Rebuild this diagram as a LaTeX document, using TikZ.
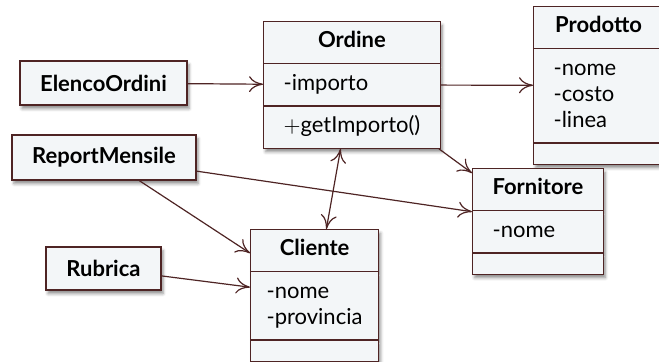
\documentclass[tikz,border=0pt]{standalone}
\usepackage{fontspec}
\setmainfont{Lato}
\usetikzlibrary{shapes.multipart,arrows.meta,shadows.blur}

\definecolor{umlline}{RGB}{78,36,36}
\definecolor{umlfill}{RGB}{243,246,248}

\tikzset{
  umlbox/.style={draw=umlline, fill=umlfill, line width=0.6pt,
    blur shadow={shadow xshift=1pt, shadow yshift=-1.8pt, shadow blur radius=1.5pt, shadow opacity=45}},
  % class with name, attributes and operations
  umlclass/.style={umlbox, rectangle split, rectangle split parts=3,
    rectangle split ignore empty parts=false,
    rectangle split part align={center,left,left},
    inner xsep=10pt, inner ysep=3.75pt, anchor=north west,
    font=\fontsize{11}{13}\selectfont},
  % class shown by its name only
  umlname/.style={umlbox, minimum height=22pt, font=\fontsize{11}{13}\selectfont\bfseries},
  assoc/.style={draw=umlline, line width=0.6pt, -{To[length=7pt,width=8pt]}},
}
\newcommand{\attrlist}[1]{\begin{tabular}{@{}l@{}}#1\end{tabular}}

\begin{document}
\begin{tikzpicture}[x=0.5pt,y=-0.5pt]
    \useasboundingbox (0,0) rectangle (659,361);
    % left column
    \node[umlname, minimum width=83.5pt] (elenco) at (103.5,83) {ElencoOrdini};
    \node[umlname, minimum width=92pt, minimum height=22.5pt] (report) at (104,157.5) {ReportMensile};
    \node[umlname, minimum width=57.5pt, minimum height=21.5pt] (rubrica) at (103.5,268.5) {Rubrica};
    % classes
    \node[umlclass, minimum width=87.5pt] (ordine) at (263,21)
        {\bfseries\strut Ordine
         \nodepart{two}\strut-importo
         \nodepart{three}\strut$+$getImporto()};
    \node[umlclass, minimum width=65pt] (prodotto) at (533,6)
        {\bfseries\strut Prodotto
         \nodepart{two}\attrlist{-nome\\-costo\\-linea}
         \nodepart{three}\rule{0pt}{2.5pt}};
    \node[umlclass, minimum width=64.5pt] (fornitore) at (472,168)
        {\bfseries\strut Fornitore
         \nodepart{two}\strut-nome
         \nodepart{three}\rule{0pt}{2.5pt}};
    \node[umlclass, minimum width=64pt, inner xsep=8pt] (cliente) at (250,229)
        {\bfseries\strut Cliente
         \nodepart{two}\attrlist{-nome\\-provincia}
         \nodepart{three}\rule{0pt}{2.5pt}};
    % associations
    \draw[assoc] (elenco) -- (ordine);
    \draw[assoc] (ordine) -- (prodotto);
    \draw[assoc] (ordine) -- (fornitore);
    \draw[assoc] (report) -- (fornitore);
    \draw[assoc] (report) -- (cliente);
    \draw[assoc] (rubrica) -- (cliente);
    \draw[assoc, {To[length=7pt,width=8pt]}-{To[length=7pt,width=8pt]}] (ordine) -- (cliente);
\end{tikzpicture}
\end{document}
